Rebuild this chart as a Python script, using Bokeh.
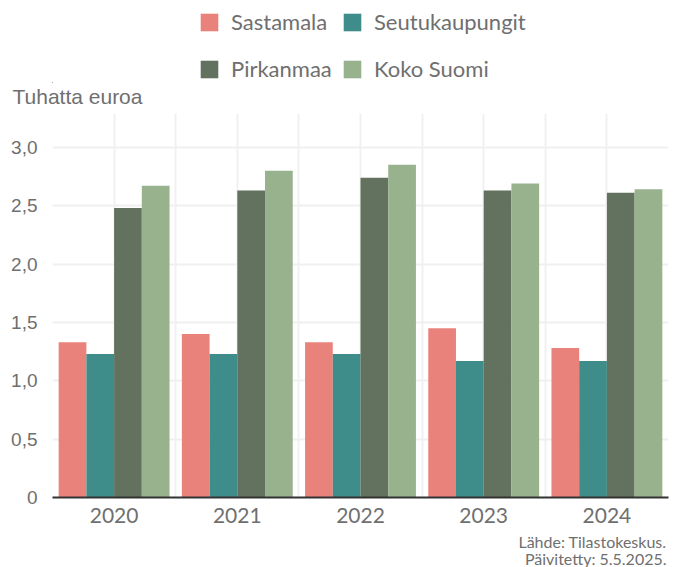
from bokeh.plotting import figure
from bokeh.layouts import column
from bokeh.models import (ColumnDataSource, FixedTicker, CustomJSTickFormatter, Legend,
                          LegendItem, Title, Range1d, Label)
from bokeh.transform import dodge
from bokeh.embed import file_html
from bokeh.resources import INLINE

years = ["2020", "2021", "2022", "2023", "2024"]
sastamala = [1.33, 1.40, 1.33, 1.45, 1.28]
seutukaupungit = [1.23, 1.23, 1.23, 1.17, 1.17]
pirkanmaa = [2.48, 2.63, 2.74, 2.63, 2.61]
koko_suomi = [2.67, 2.80, 2.85, 2.69, 2.64]
series_names = ["Sastamala", "Seutukaupungit", "Pirkanmaa", "Koko Suomi"]
series_keys = ["sastamala", "seutukaupungit", "pirkanmaa", "koko_suomi"]
colors = ["#EA827C", "#3F8D8A", "#62725E", "#98B28E"]
y_ticks = [0, 0.5, 1.0, 1.5, 2.0, 2.5, 3.0]
y_label = "Tuhatta euroa"
source_lines = ["Lähde: Tilastokeskus.", "Päivitetty: 5.5.2025."]

xpos = [i + 0.5 for i in range(len(years))]
src = ColumnDataSource(dict(x=xpos, sastamala=sastamala, seutukaupungit=seutukaupungit,
                            pirkanmaa=pirkanmaa, koko_suomi=koko_suomi))

GREY = "#6f6f6f"
GRID = "#f0f0f0"
W, H = 688, 567
TOP_H = 113          # legend strip + y-axis caption
LEG_FRAME = 82
FOOT_H = 36
ML, MR = 52, 20

# ---------------- legend strip (its frame shows no data; only the legend) ----------------
lf = figure(width=W, height=TOP_H, output_backend="svg", toolbar_location=None,
            title=None,
            x_range=Range1d(100, 101), y_range=Range1d(100, 101),
            x_axis_location=None, y_axis_location=None, min_border=0,
            min_border_left=ML, min_border_right=MR, min_border_top=0,
            min_border_bottom=TOP_H - LEG_FRAME)
lf.grid.visible = False
lf.outline_line_color = None
lf.background_fill_color = "white"
lf.border_fill_color = "white"
legend_pos = [(146, 0), (289, 0), (146, 1), (289, 1)]
for name, key, col, (lx, row) in zip(series_names, series_keys, colors, legend_pos):
    rr = lf.vbar(x="x", top=key, width=0, source=src, fill_color=col, line_color=None)
    top_px = 8.8 + row * 46.8
    lg = Legend(items=[LegendItem(label=name, renderers=[rr])],
                location=(lx, LEG_FRAME - top_px - 26.4),
                orientation="horizontal",
                glyph_width=22, glyph_height=22, label_height=22, label_standoff=11,
                spacing=0, padding=0, margin=0,
                label_text_font="Lato", label_text_font_size="22px", label_text_color=GREY,
                border_line_color=None, background_fill_alpha=0)
    lf.add_layout(lg, "center")

cap = Title(text=y_label, align="left", offset=-40, standoff=0,
            text_font="Liberation Sans", text_font_size="21px", text_font_style="normal",
            text_color=GREY)
lf.add_layout(cap, "below")

# ---------------- main chart ----------------
MAIN_H = H - TOP_H - FOOT_H
p = figure(width=W, height=MAIN_H, output_backend="svg", toolbar_location=None,
           title=None,
           x_range=Range1d(0, len(years)), y_range=Range1d(0, 3.29),
           min_border_left=ML, min_border_right=MR, min_border_top=0,
           min_border_bottom=MAIN_H - 384)
p.outline_line_color = None
p.background_fill_color = "white"
p.border_fill_color = "white"

bar_w = 0.225
offsets = [-1.5 * bar_w, -0.5 * bar_w, 0.5 * bar_w, 1.5 * bar_w]
for key, off, col in zip(series_keys, offsets, colors):
    p.vbar(x=dodge("x", off), top=key, width=bar_w, source=src,
           fill_color=col, line_color=None)

p.xaxis.ticker = FixedTicker(ticks=xpos, minor_ticks=list(range(len(years) + 1)))
p.xaxis.major_label_overrides = {x: y for x, y in zip(xpos, years)}
p.xaxis.major_label_text_font = "Lato"
p.xaxis.major_label_text_font_size = "21px"
p.xaxis.major_label_text_color = GREY
p.xaxis.major_tick_line_color = None
p.xaxis.minor_tick_line_color = None
p.xaxis.axis_line_color = "#333333"
p.xaxis.axis_line_width = 2
p.xaxis.major_label_standoff = 4

p.yaxis.ticker = FixedTicker(ticks=y_ticks)
p.yaxis.formatter = CustomJSTickFormatter(code="return tick == 0 ? '0' : tick.toFixed(1).replace('.', ',');")
p.yaxis.major_label_text_font = "Liberation Sans"
p.yaxis.major_label_text_font_size = "19px"
p.yaxis.major_label_text_color = GREY
p.yaxis.major_tick_line_color = None
p.yaxis.minor_tick_line_color = None
p.yaxis.axis_line_color = None
p.yaxis.major_label_standoff = 9

p.xgrid.grid_line_color = GRID
p.xgrid.grid_line_width = 2
p.xgrid.minor_grid_line_color = GRID
p.xgrid.minor_grid_line_width = 2
p.ygrid.grid_line_color = GRID
p.ygrid.grid_line_width = 2

# ---------------- footer strip ----------------
foot = figure(width=W, height=FOOT_H, output_backend="svg", toolbar_location=None,
              title=None, x_range=Range1d(0, 1), y_range=Range1d(0, 1),
              x_axis_location=None, y_axis_location=None, min_border=0,
              min_border_left=ML, min_border_right=MR, min_border_top=0, min_border_bottom=0)
foot.grid.visible = False
foot.outline_line_color = None
foot.background_fill_color = "white"
foot.border_fill_color = "white"
for i, line in enumerate(source_lines):
    foot.add_layout(Label(x=W - ML - MR - 2, y=FOOT_H - 10 - 17 * i,
                          x_units="screen", y_units="screen", text=line,
                          text_align="right", text_baseline="middle",
                          text_font="Lato", text_font_size="16px", text_color=GREY))

layout = column(lf, p, foot, spacing=0)
open("out.html", "w").write(file_html(layout, INLINE))
